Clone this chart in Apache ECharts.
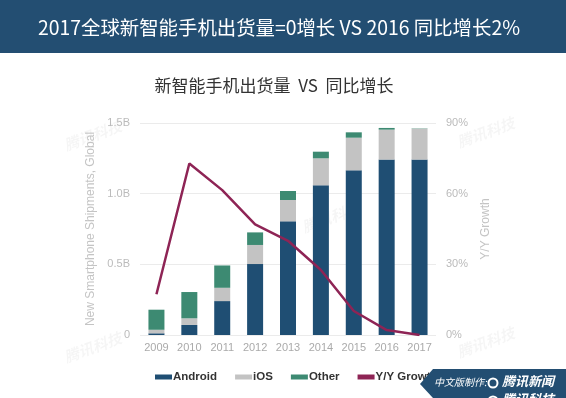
<!DOCTYPE html>
<html><head><meta charset="utf-8">
<script src="https://cdn.jsdelivr.net/npm/echarts@6/dist/echarts.min.js"></script>
<style>html,body{margin:0;padding:0;background:#fff}#c{width:566px;height:398px}</style>
</head><body><div id="c"></div>
<script>
const years = ['2009','2010','2011','2012','2013','2014','2015','2016','2017'];
const android = [0.012, 0.071, 0.240, 0.502, 0.804, 1.059, 1.165, 1.241, 1.241];
const ios     = [0.025, 0.047, 0.094, 0.135, 0.151, 0.191, 0.231, 0.212, 0.219];
const other   = [0.142, 0.186, 0.158, 0.089, 0.064, 0.047, 0.038, 0.012, 0.002];
const growth  = [17.3, 72.8, 61.5, 47.0, 40.0, 27.6, 10.2, 2.1, 0.0];
const leftTicks = {0:'0', 0.5:'0.5B', 1:'1.0B', 1.5:'1.5B'};

const FONT = '"Noto Sans CJK SC","Noto Sans",sans-serif';
const LAT = '"Liberation Sans",Arial,sans-serif';
const chart = echarts.init(document.getElementById('c'));
const wm = (x,y)=>({type:'text',left:x,top:y,rotation:0.35,silent:true,z:0,
  style:{text:'腾讯科技',fill:'rgba(0,0,0,0.04)',font:'bold italic 15px '+FONT}});
chart.setOption({
  animation:false,
  textStyle:{fontFamily:FONT},
  title:[
    {text:'2017全球新智能手机出货量=0增长 VS 2016 同比增长2%',left:33,top:13,
     textStyle:{color:'#fff',fontSize:19.4,fontWeight:'normal',fontFamily:FONT}},
    {text:'新智能手机出货量  VS  同比增长',left:269,textAlign:'center',top:72,
     textStyle:{color:'#333',fontSize:17,fontWeight:'normal',fontFamily:FONT}}
  ],
  graphic:[
    {type:'rect',shape:{x:0,y:0,width:566,height:53},style:{fill:'#234e72'},z:-1},
    wm(62,118),wm(62,330),wm(300,200),wm(455,115),wm(455,325),
    {type:'polygon',shape:{points:[[420,384],[433,369],[566,369],[566,398],[433,398]]},style:{fill:'#234e72'},z:100},
    {type:'text',left:434,top:377,z:101,style:{text:'中文版制作:',fill:'#fff',font:'italic 10px '+FONT}},
    {type:'circle',shape:{cx:493,cy:383,r:4.5},style:{fill:'none',stroke:'#fff',lineWidth:2},z:101},
    {type:'text',left:502,top:375,z:101,style:{text:'腾讯新闻',fill:'#fff',font:'bold italic 13px '+FONT}},
    {type:'circle',shape:{cx:493,cy:401,r:4.5},style:{fill:'none',stroke:'#fff',lineWidth:2},z:101},
    {type:'text',left:502,top:393,z:101,style:{text:'腾讯科技',fill:'#fff',font:'bold italic 13px '+FONT}}
  ],
  legend:{
    left:150,top:366,itemWidth:17,itemHeight:5,itemGap:18,icon:'rect',z:1,
    textStyle:{color:'#333',fontSize:11.5,fontWeight:'bold',fontFamily:LAT,padding:[0,0,0,-4]},
    data:['Android','iOS','Other','Y/Y Growth']
  },
  grid:{left:140,right:130,top:123,bottom:63},
  xAxis:{type:'category',data:years,
    axisLine:{show:false},axisTick:{show:false},
    axisLabel:{color:'#aaa',fontSize:11,margin:7,fontFamily:LAT}},
  yAxis:[
    {type:'value',min:0,max:1.5,interval:0.5,
     name:'New Smartphone Shipments, Global',nameLocation:'middle',nameGap:37,
     nameTextStyle:{color:'#c4c4c4',fontSize:12,fontFamily:LAT},
     axisLine:{show:false},axisTick:{show:false},
     axisLabel:{color:'#bbb',fontSize:11,margin:10,formatter:v=>leftTicks[v],fontFamily:LAT},
     splitLine:{lineStyle:{color:'#ebebeb',width:1}}},
    {type:'value',min:0,max:90,interval:30,
     name:'Y/Y Growth',nameLocation:'middle',nameGap:44,nameRotate:90,
     nameTextStyle:{color:'#c4c4c4',fontSize:12,fontFamily:LAT},
     axisLine:{show:false},axisTick:{show:false},
     axisLabel:{color:'#bbb',fontSize:11,margin:10,formatter:'{value}%',fontFamily:LAT},
     splitLine:{show:false}}
  ],
  series:[
    {name:'Android',type:'bar',stack:'s',data:android,barWidth:16,itemStyle:{color:'#1f4e73'}},
    {name:'iOS',type:'bar',stack:'s',data:ios,barWidth:16,itemStyle:{color:'#c3c3c3'}},
    {name:'Other',type:'bar',stack:'s',data:other,barWidth:16,itemStyle:{color:'#3d8a72'}},
    {name:'Y/Y Growth',type:'line',yAxisIndex:1,data:growth,showSymbol:false,symbol:'none',
     lineStyle:{color:'#8e2455',width:2.5},itemStyle:{color:'#8e2455'},z:5}
  ]
});
</script></body></html>
